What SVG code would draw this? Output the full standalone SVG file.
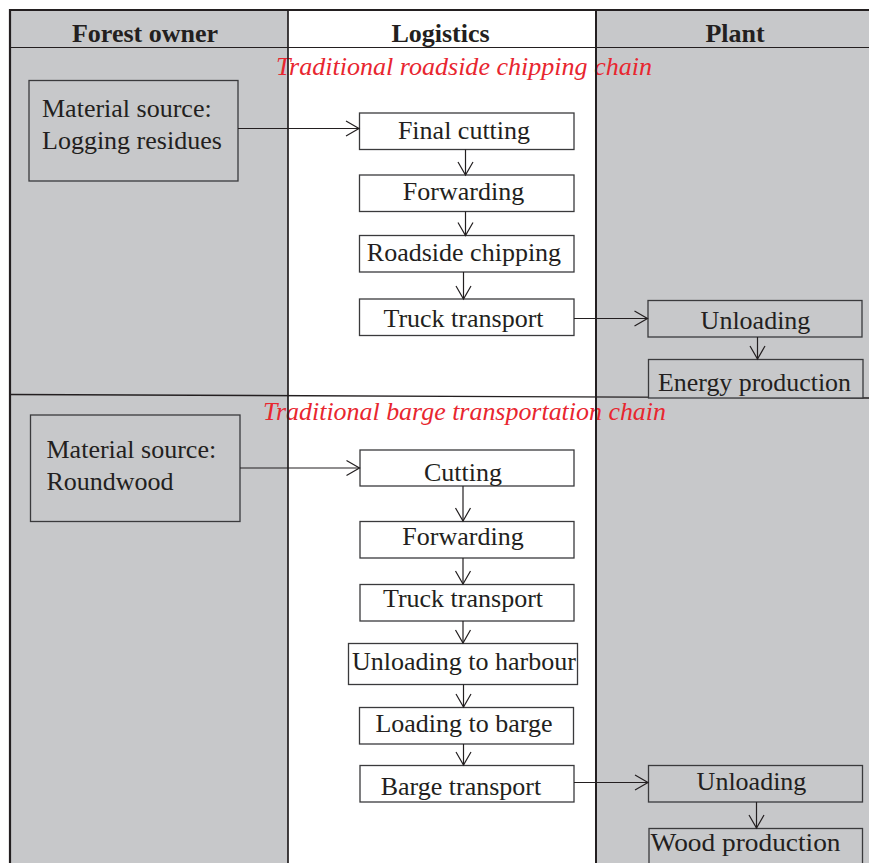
<svg xmlns="http://www.w3.org/2000/svg" width="869" height="863" viewBox="0 0 869 863">
  <defs>
    <marker id="open-arrow" markerUnits="userSpaceOnUse" markerWidth="16" markerHeight="18" refX="14" refY="8" orient="auto" overflow="visible">
      <path d="M1,0.5 L14,8 L1,15.5" fill="none" stroke="#231f20" stroke-width="1.2"/>
    </marker>
  </defs>
  <style>
    .lane-gray { fill: #c7c8ca; }
    .lane-white { fill: #ffffff; }
    .frame { stroke: #231f20; fill: none; }
    .head { font-family: "Liberation Serif", "Times New Roman", serif; font-weight: bold; font-size: 26px; fill: #231f20; text-anchor: middle; }
    .chain { font-family: "Liberation Serif", "Times New Roman", serif; font-style: italic; font-size: 25.5px; fill: #e8262f; }
    .box { stroke: #3a3a3c; stroke-width: 1.3; }
    .box-white { fill: #ffffff; }
    .box-gray { fill: #c7c8ca; }
    .label { font-family: "Liberation Serif", "Times New Roman", serif; font-size: 26px; fill: #231f20; }
    .mid { text-anchor: middle; }
    .conn { stroke: #231f20; stroke-width: 1.2; fill: none; marker-end: url(#open-arrow); }
  </style>

  <rect x="0" y="0" width="869" height="863" fill="#ffffff"/>

  <!-- swimlanes -->
  <g id="lanes">
    <rect class="lane-gray" x="10" y="10" width="278" height="853"/>
    <rect class="lane-white" x="288" y="10" width="308" height="853"/>
    <rect class="lane-gray" x="596" y="10" width="273" height="853"/>
  </g>

  <!-- lane titles -->
  <g id="lane-titles">
    <text class="head" x="145" y="42">Forest owner</text>
    <text class="head" x="440.5" y="42">Logistics</text>
    <text class="head" x="735" y="42">Plant</text>
  </g>

  <!-- chain titles -->
  <g id="chain-titles">
    <text class="chain" x="276" y="75" textLength="376" lengthAdjust="spacingAndGlyphs">Traditional roadside chipping chain</text>
    <text class="chain" x="263" y="419.5" textLength="403" lengthAdjust="spacingAndGlyphs">Traditional barge transportation chain</text>
  </g>

  <!-- grid lines -->
  <g id="grid" class="frame">
    <line x1="9" y1="10" x2="869" y2="10" stroke-width="2"/>
    <line x1="10" y1="9" x2="10" y2="863" stroke-width="2.2"/>
    <line x1="288" y1="10" x2="288" y2="863" stroke-width="1.7"/>
    <line x1="596" y1="10" x2="596" y2="863" stroke-width="2"/>
    <line x1="10" y1="47.5" x2="869" y2="47.5" stroke-width="1.2"/>
    <line x1="10" y1="394.5" x2="869" y2="398" stroke-width="1.3"/>
  </g>

  <!-- roadside chipping chain -->
  <g id="source-residues">
    <rect class="box box-gray" x="29" y="80.5" width="209" height="100.5"/>
    <text class="label" x="42" y="117">Material source:</text>
    <text class="label" x="42" y="148.5">Logging residues</text>
  </g>
  <g id="final-cutting">
    <rect class="box box-white" x="359.5" y="113" width="214.5" height="36.5"/>
    <text class="label mid" x="464" y="138.5">Final cutting</text>
  </g>
  <g id="forwarding-1">
    <rect class="box box-white" x="359.5" y="175" width="214.5" height="36.5"/>
    <text class="label mid" x="463.5" y="200">Forwarding</text>
  </g>
  <g id="roadside-chipping">
    <rect class="box box-white" x="359.5" y="235.5" width="214.5" height="36.5"/>
    <text class="label mid" x="464" y="261">Roadside chipping</text>
  </g>
  <g id="truck-transport-1">
    <rect class="box box-white" x="359.5" y="299" width="214.5" height="36.5"/>
    <text class="label mid" x="463.5" y="326.5">Truck transport</text>
  </g>
  <g id="unloading-1">
    <rect class="box box-gray" x="648" y="300.5" width="214" height="36.5"/>
    <text class="label mid" x="755.5" y="329">Unloading</text>
  </g>
  <g id="energy-production">
    <rect class="box box-gray" x="648.5" y="359.5" width="214.5" height="38.5"/>
    <text class="label" x="658" y="390.5" textLength="193" lengthAdjust="spacingAndGlyphs">Energy production</text>
  </g>

  <!-- barge transportation chain -->
  <g id="source-roundwood">
    <rect class="box box-gray" x="30.5" y="415" width="209.5" height="106.5"/>
    <text class="label" x="46.5" y="458">Material source:</text>
    <text class="label" x="46.5" y="489.5">Roundwood</text>
  </g>
  <g id="cutting">
    <rect class="box box-white" x="360" y="450" width="214" height="36"/>
    <text class="label mid" x="463" y="481">Cutting</text>
  </g>
  <g id="forwarding-2">
    <rect class="box box-white" x="360" y="521.5" width="214" height="36.5"/>
    <text class="label mid" x="463" y="544.5">Forwarding</text>
  </g>
  <g id="truck-transport-2">
    <rect class="box box-white" x="360" y="584.5" width="214" height="36.5"/>
    <text class="label mid" x="463" y="607">Truck transport</text>
  </g>
  <g id="unloading-harbour">
    <rect class="box box-white" x="348.5" y="643.5" width="229" height="41"/>
    <text class="label mid" x="464" y="670">Unloading to harbour</text>
  </g>
  <g id="loading-barge">
    <rect class="box box-white" x="359.5" y="707.5" width="214" height="36.5"/>
    <text class="label mid" x="464" y="732">Loading to barge</text>
  </g>
  <g id="barge-transport">
    <rect class="box box-white" x="360" y="765.5" width="214" height="36.5"/>
    <text class="label mid" x="461" y="795">Barge transport</text>
  </g>
  <g id="unloading-2">
    <rect class="box box-gray" x="648.5" y="765.5" width="214" height="36.5"/>
    <text class="label mid" x="751.5" y="789.5">Unloading</text>
  </g>
  <g id="wood-production">
    <rect class="box box-gray" x="649" y="828.5" width="213.5" height="44"/>
    <text class="label" x="650.5" y="850.5" textLength="190" lengthAdjust="spacingAndGlyphs">Wood production</text>
  </g>

  <!-- connectors -->
  <g id="connectors">
    <line class="conn" x1="238" y1="128.5" x2="359" y2="128.5"/>
    <line class="conn" x1="465.5" y1="149.5" x2="465.5" y2="175"/>
    <line class="conn" x1="465.5" y1="211.5" x2="465.5" y2="235.5"/>
    <line class="conn" x1="463.5" y1="272" x2="463.5" y2="299"/>
    <line class="conn" x1="574" y1="318.5" x2="647.5" y2="318.5"/>
    <line class="conn" x1="757.5" y1="337" x2="757.5" y2="359"/>

    <line class="conn" x1="240" y1="468" x2="359.5" y2="468"/>
    <line class="conn" x1="463" y1="486" x2="463" y2="521"/>
    <line class="conn" x1="463" y1="558" x2="463" y2="584"/>
    <line class="conn" x1="463" y1="621" x2="463" y2="643"/>
    <line class="conn" x1="463.5" y1="684.5" x2="463.5" y2="707"/>
    <line class="conn" x1="463.5" y1="744" x2="463.5" y2="765"/>
    <line class="conn" x1="574" y1="782.5" x2="648" y2="782.5"/>
    <line class="conn" x1="756.5" y1="802" x2="756.5" y2="828"/>
  </g>
</svg>
